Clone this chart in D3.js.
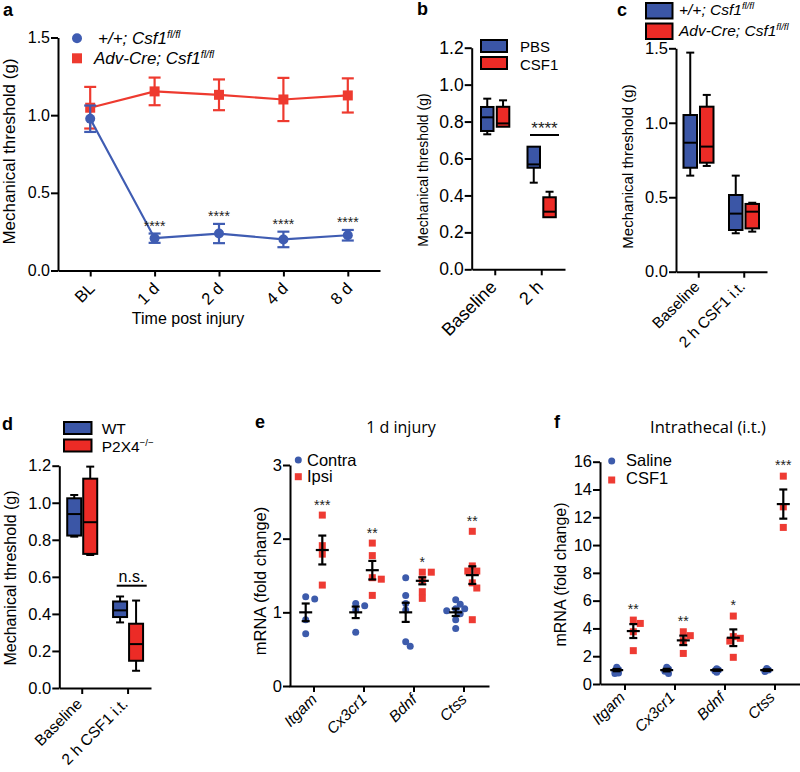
<!DOCTYPE html>
<html><head><meta charset="utf-8">
<script src="https://cdn.jsdelivr.net/npm/d3@7"></script>
<style>
body{margin:0;background:#fff}
svg text{font-family:"Liberation Sans",Arial,Helvetica,sans-serif}
</style>
</head><body>
<svg id="fig" width="800" height="772"></svg>
<script>
// ---------------- DATA ----------------
// Panel a
const timeLabels = ["BL", "1 d", "2 d", "4 d", "8 d"];
const aWtMean = [0.977, 0.208, 0.238, 0.200, 0.227];
const aWtSem  = [0.085, 0.030, 0.062, 0.050, 0.034];
const aKoMean = [1.048, 1.153, 1.131, 1.101, 1.127];
const aKoSem  = [0.134, 0.089, 0.099, 0.139, 0.110];
const aSig    = ["", "****", "****", "****", "****"];
const aLegend = ["+/+; Csf1", "Adv-Cre; Csf1"];

// Panel b  (box stats: [min, q1, median, q3, max])
const bCats = ["Baseline", "2 h"];
const bPBS  = [[0.731, 0.749, 0.823, 0.879, 0.924], [0.469, 0.550, 0.568, 0.664, 0.664]];
const bCSF1 = [[0.772, 0.772, 0.790, 0.880, 0.915], [0.282, 0.282, 0.312, 0.390, 0.420]];
const bLegend = ["PBS", "CSF1"];

// Panel c
const cCats = ["Baseline", "2 h CSF1 i.t."];
const cWT = [[0.645, 0.698, 0.866, 1.052, 1.471], [0.258, 0.280, 0.390, 0.515, 0.645]];
const cKO = [[0.710, 0.732, 0.840, 1.108, 1.187], [0.269, 0.291, 0.403, 0.455, 0.463]];

// Panel d
const dCats = ["Baseline", "2 h CSF1 i.t."];
const dWT  = [[0.817, 0.823, 0.939, 1.024, 1.042], [0.354, 0.383, 0.419, 0.467, 0.494]];
const dKO  = [[0.718, 0.724, 0.895, 1.130, 1.195], [0.093, 0.147, 0.237, 0.347, 0.472]];
const dLegend = ["WT", "P2X4"];

// Panel e
const genes = ["Itgam", "Cx3cr1", "Bdnf", "Ctss"];
const eContra = [[1.18, 1.21, 0.90, 0.71], [1.12, 1.09, 1.03, 0.73],
                 [1.47, 1.23, 1.12, 1.03, 0.54, 0.60], [1.11, 1.17, 1.05, 1.05, 1.02, 0.98, 0.90, 0.78]];
const eIpsi   = [[2.32, 1.905, 1.79, 1.37], [1.94, 1.77, 1.47, 1.45, 1.23],
                 [1.545, 1.545, 1.44, 1.28, 1.19], [2.10, 1.63, 1.56, 1.56, 1.40, 1.33, 0.90]];
const eContraMean = [1.0, 1.0, 1.0, 1.0];
const eContraSem  = [0.12, 0.078, 0.13, 0.05];
const eIpsiMean   = [1.846, 1.572, 1.428, 1.505];
const eIpsiSem    = [0.196, 0.126, 0.048, 0.12];
const eSig = ["***", "**", "*", "**"];

// Panel f
const fSaline = [[1.2, 1.05, 0.95, 0.8, 0.75], [1.2, 1.08, 0.92, 0.75],
                 [1.1, 1.0, 0.95, 0.85], [1.12, 1.0, 0.9]];
const fCSF1   = [[4.6, 4.36, 3.76, 2.4], [3.76, 3.48, 3.12, 2.2],
                 [4.89, 3.41, 3.29, 3.09, 1.92], [14.96, 12.75, 11.27]];
const fSalineMean = [1.0, 1.0, 1.0, 1.0];
const fSalineSem  = [0.08, 0.09, 0.05, 0.06];
const fCSF1Mean   = [3.81, 3.14, 3.33, 12.95];
const fCSF1Sem    = [0.50, 0.34, 0.60, 1.05];
const fSig = ["**", "**", "*", "***"];

// ---------------- STYLE ----------------
const BLUE = "#3b56a6", RED = "#ec2b26";
const LBLUE = "#3f5cb2", LRED = "#ee3a2f";
const PBLUE = "#3d5bab", PRED = "#ee3b33";
const svg = d3.select("#fig");

function styleAxis(ax, fs) {
  ax.attr("font-family", null).attr("font-size", null);
  ax.select(".domain").attr("stroke", "#000").attr("stroke-width", 2);
  ax.selectAll(".tick line").attr("stroke", "#000").attr("stroke-width", 2);
  ax.selectAll(".tick text").attr("fill", "#000").style("font-size", fs + "px");
}
function yAxis(y, x, ticks, fmt, fs) {
  const ax = svg.append("g").attr("transform", `translate(${x},0)`)
    .call(d3.axisLeft(y).tickValues(ticks).tickFormat(fmt).tickSize(7).tickPadding(1).tickSizeOuter(0));
  styleAxis(ax, fs);
  return ax;
}
function xAxis(xs, yPos, fs, italic, ox, oy) {
  const ax = svg.append("g").attr("transform", `translate(0,${yPos})`)
    .call(d3.axisBottom(xs).tickSize(6).tickSizeOuter(0));
  styleAxis(ax, fs);
  ax.selectAll(".tick text").attr("text-anchor", "end").attr("x", 0).attr("y", 0).attr("dy", "0.35em")
    .attr("transform", `translate(${ox},${oy}) rotate(-45)`)
    .style("font-style", italic ? "italic" : "normal");
  return ax;
}
function yTitle(txt, x, yc, fs) {
  svg.append("text").attr("transform", `translate(${x},${yc}) rotate(-90)`)
    .attr("text-anchor", "middle").attr("dy", "0.35em").style("font-size", fs + "px").text(txt);
}
function panelLetter(t, x, y) {
  svg.append("text").attr("x", x).attr("y", y).style("font-size", "18px").style("font-weight", "bold").text(t);
}
function box(cx, w, s, y, fill) {
  const [mn, q1, md, q3, mx] = s;
  const g = svg.append("g").attr("stroke", "#000").attr("stroke-width", 2);
  const cw = 8;
  if (mx > q3) {
    g.append("line").attr("x1", cx).attr("x2", cx).attr("y1", y(mx)).attr("y2", y(q3));
    g.append("line").attr("x1", cx - cw / 2).attr("x2", cx + cw / 2).attr("y1", y(mx)).attr("y2", y(mx));
  }
  if (mn < q1) {
    g.append("line").attr("x1", cx).attr("x2", cx).attr("y1", y(q1)).attr("y2", y(mn));
    g.append("line").attr("x1", cx - cw / 2).attr("x2", cx + cw / 2).attr("y1", y(mn)).attr("y2", y(mn));
  }
  g.append("rect").attr("x", cx - w / 2).attr("y", y(q3)).attr("width", w).attr("height", y(q1) - y(q3)).attr("fill", fill);
  g.append("line").attr("x1", cx - w / 2).attr("x2", cx + w / 2).attr("y1", y(md)).attr("y2", y(md));
}
function legendRect(x, y, w, h, fill) {
  svg.append("rect").attr("x", x).attr("y", y).attr("width", w).attr("height", h)
    .attr("fill", fill).attr("stroke", "#000").attr("stroke-width", 2);
}
function supText(x, y, main, sup, fs, italic) {
  const t = svg.append("text").attr("x", x).attr("y", y).style("font-size", fs + "px");
  if (italic) t.style("font-style", "italic");
  t.append("tspan").text(main);
  t.append("tspan").attr("dy", -fs * 0.38).style("font-size", (fs * 0.62) + "px").text(sup);
  return t;
}
// simple deterministic beeswarm: step = horizontal step, kmax = number of steps each side
function swarm(values, y, r, step, kmax) {
  const placed = [], out = new Array(values.length);
  const cands = [0];
  for (let k = 1; k <= kmax; k++) cands.push(k * step, -k * step);
  values.map((v, i) => ({v, i})).sort((a, b) => b.v - a.v).forEach(({v, i}) => {
    const yy = y(v);
    let best = null, bestD = -1;
    for (const xx of cands) {
      const d = placed.length ? d3.min(placed, p => Math.hypot(p.x - xx, p.y - yy)) : Infinity;
      if (d >= 2 * r * 0.8) { best = xx; break; }
      if (d > bestD) { bestD = d; best = xx; }
    }
    placed.push({x: best, y: yy}); out[i] = {x: best, y: yy};
  });
  return out;
}
function meanSem(cx, m, s, y) {
  const g = svg.append("g").attr("stroke", "#000").attr("stroke-width", 2.2);
  g.append("line").attr("x1", cx - 6.5).attr("x2", cx + 6.5).attr("y1", y(m)).attr("y2", y(m));
  g.append("line").attr("x1", cx).attr("x2", cx).attr("y1", y(m + s)).attr("y2", y(m - s));
  g.append("line").attr("x1", cx - 4).attr("x2", cx + 4).attr("y1", y(m + s)).attr("y2", y(m + s));
  g.append("line").attr("x1", cx - 4).attr("x2", cx + 4).attr("y1", y(m - s)).attr("y2", y(m - s));
}
function dots(cx, vals, y, color, shape, step, kmax) {
  const r = 3.5;
  swarm(vals, y, r, step, kmax).forEach(p => {
    if (shape === "circle")
      svg.append("circle").attr("cx", cx + p.x).attr("cy", p.y).attr("r", r).attr("fill", color);
    else
      svg.append("rect").attr("x", cx + p.x - r).attr("y", p.y - r).attr("width", 2 * r).attr("height", 2 * r).attr("fill", color);
  });
}

// ---------------- PANEL A ----------------
{
  const y = d3.scaleLinear().domain([0, 1.5]).range([270.5, 37.5]);
  const x = d3.scalePoint().domain(timeLabels).range([58, 380]).padding(0.5);
  yAxis(y, 58, [0, 0.5, 1.0, 1.5], d3.format(".1f"), 16);
  xAxis(x, 270.5, 16.5, false, 1, 15);
  yTitle("Mechanical threshold (g)", 9, 151.5, 17);
  svg.append("text").attr("x", 188).attr("y", 324).attr("text-anchor", "middle").style("font-size", "16px").text("Time post injury");
  panelLetter("a", 3, 16);

  const series = [
    {m: aKoMean, s: aKoSem, c: LRED, shape: "square"},
    {m: aWtMean, s: aWtSem, c: LBLUE, shape: "circle"}
  ];
  series.forEach(sr => {
    const line = d3.line().x((d, i) => x(timeLabels[i])).y(d => y(d));
    svg.append("path").attr("d", line(sr.m)).attr("fill", "none").attr("stroke", sr.c).attr("stroke-width", 2.2);
    sr.m.forEach((m, i) => {
      const cx = x(timeLabels[i]), s = sr.s[i];
      const g = svg.append("g").attr("stroke", sr.c).attr("stroke-width", 2.2);
      g.append("line").attr("x1", cx).attr("x2", cx).attr("y1", y(m + s)).attr("y2", y(m - s));
      g.append("line").attr("x1", cx - 6).attr("x2", cx + 6).attr("y1", y(m + s)).attr("y2", y(m + s));
      g.append("line").attr("x1", cx - 6).attr("x2", cx + 6).attr("y1", y(m - s)).attr("y2", y(m - s));
      if (sr.shape === "circle") svg.append("circle").attr("cx", cx).attr("cy", y(m)).attr("r", 5).attr("fill", sr.c);
      else svg.append("rect").attr("x", cx - 5).attr("y", y(m) - 5).attr("width", 10).attr("height", 10).attr("fill", sr.c);
    });
  });
  aSig.forEach((t, i) => {
    if (!t) return;
    svg.append("text").attr("x", x(timeLabels[i])).attr("y", y(aWtMean[i] + aWtSem[i]) - 3)
      .attr("text-anchor", "middle").style("font-size", "14px").attr("fill", "#222").text(t);
  });
  // legend
  svg.append("circle").attr("cx", 77).attr("cy", 38.3).attr("r", 5).attr("fill", LBLUE);
  svg.append("rect").attr("x", 72).attr("y", 53.3).attr("width", 10).attr("height", 10).attr("fill", LRED);
  supText(98, 44, aLegend[0], "fl/fl", 17, true);
  supText(94, 64, aLegend[1], "fl/fl", 17, true);
}

// ---------------- PANEL B ----------------
{
  const y = d3.scaleLinear().domain([0, 1.2]).range([269.3, 47.7]);
  const x = d3.scaleBand().domain(bCats).range([472, 565]);
  yAxis(y, 471.7, d3.range(0, 1.21, 0.2), d3.format(".1f"), 17.5);
  xAxis(x, 269.3, 18, false, -2, 14.5);
  yTitle("Mechanical threshold (g)", 423, 170, 14);
  panelLetter("b", 417, 15);
  bCats.forEach((c, i) => {
    const cx = x(c) + x.bandwidth() / 2;
    box(cx - 8, 12.5, bPBS[i], y, BLUE);
    box(cx + 7.8, 12.5, bCSF1[i], y, RED);
  });
  svg.append("line").attr("x1", 530).attr("x2", 559).attr("y1", 135).attr("y2", 135).attr("stroke", "#000").attr("stroke-width", 2);
  svg.append("text").attr("x", 544.5).attr("y", 133.5).attr("text-anchor", "middle").style("font-size", "17px").attr("fill", "#222").text("****");
  legendRect(481, 40, 26, 12, BLUE);
  legendRect(481, 57, 26, 12, RED);
  svg.append("text").attr("x", 520).attr("y", 51.7).style("font-size", "15px").text(bLegend[0]);
  svg.append("text").attr("x", 520).attr("y", 70).style("font-size", "15px").text(bLegend[1]);
}

// ---------------- PANEL C ----------------
{
  const y = d3.scaleLinear().domain([0, 1.5]).range([271.7, 48.3]);
  const x = d3.scaleBand().domain(cCats).range([676, 767]);
  yAxis(y, 676, [0, 0.5, 1.0, 1.5], d3.format(".1f"), 16.5);
  xAxis(x, 271.7, 15.5, false, -2, 12);
  yTitle("Mechanical threshold (g)", 628, 166.5, 15);
  panelLetter("c", 617, 16);
  cCats.forEach((c, i) => {
    const cx = x(c) + x.bandwidth() / 2;
    box(cx - 8.5, 13.5, cWT[i], y, BLUE);
    box(cx + 8, 13.5, cKO[i], y, RED);
  });
  legendRect(646, 3, 26.5, 15.5, BLUE);
  legendRect(646, 23.5, 26.5, 15.5, RED);
  supText(679, 15, aLegend[0], "fl/fl", 15.5, true);
  supText(679, 36, aLegend[1], "fl/fl", 15.5, true);
}

// ---------------- PANEL D ----------------
{
  const y = d3.scaleLinear().domain([0, 1.2]).range([688, 465.7]);
  const x = d3.scaleBand().domain(dCats).range([59.3, 151]);
  yAxis(y, 59.3, d3.range(0, 1.21, 0.2), d3.format(".1f"), 16.5);
  xAxis(x, 688, 15.5, false, -3, 13);
  yTitle("Mechanical threshold (g)", 10, 578, 16);
  panelLetter("d", 2, 430);
  dCats.forEach((c, i) => {
    const cx = x(c) + x.bandwidth() / 2;
    box(cx - 8, 14, dWT[i], y, BLUE);
    box(cx + 8, 14, dKO[i], y, RED);
  });
  svg.append("line").attr("x1", 116.7).attr("x2", 146.7).attr("y1", 585.7).attr("y2", 585.7).attr("stroke", "#000").attr("stroke-width", 2);
  svg.append("text").attr("x", 131.5).attr("y", 581.5).attr("text-anchor", "middle").style("font-size", "16px").text("n.s.");
  legendRect(64, 422, 27.5, 12, BLUE);
  legendRect(64, 439.5, 27.5, 12, RED);
  svg.append("text").attr("x", 101.7).attr("y", 434).style("font-size", "15.5px").text(dLegend[0]);
  supText(101.7, 451.7, dLegend[1], "\u2212/\u2212", 15.5, false);
}

// ---------------- PANEL E ----------------
{
  const y = d3.scaleLinear().domain([0, 3]).range([686, 465]);
  const x = d3.scaleBand().domain(genes).range([289, 489]);
  yAxis(y, 290, [0, 1, 2, 3], d3.format("d"), 16.5);
  xAxis(x, 686, 15.5, true, 0, 10.5);
  yTitle("mRNA (fold change)", 260, 581, 16.5);
  panelLetter("e", 255, 428);
  svg.append("text").attr("x", 401).attr("y", 433).attr("text-anchor", "middle")
    .style("font-family", "'Open Sans', sans-serif").style("font-size", "16px").text("1 d injury");
  genes.forEach((gname, i) => {
    const cx = x(gname) + x.bandwidth() / 2;
    dots(cx - 8.3, eContra[i], y, PBLUE, "circle", 4.5, 2);
    dots(cx + 8.3, eIpsi[i], y, PRED, "square", 4.5, 2);
  });
  genes.forEach((gname, i) => {
    const cx = x(gname) + x.bandwidth() / 2;
    meanSem(cx - 8.3, eContraMean[i], eContraSem[i], y);
    meanSem(cx + 8.3, eIpsiMean[i], eIpsiSem[i], y);
    svg.append("text").attr("x", cx + 8.3).attr("y", y(d3.max(eIpsi[i])) - 5)
      .attr("text-anchor", "middle").style("font-size", "14px").attr("fill", "#222").text(eSig[i]);
  });
  svg.append("circle").attr("cx", 298.3).attr("cy", 460).attr("r", 3.5).attr("fill", PBLUE);
  svg.append("rect").attr("x", 294.8).attr("y", 473.2).attr("width", 7).attr("height", 7).attr("fill", PRED);
  svg.append("text").attr("x", 307).attr("y", 465.5).style("font-size", "16.5px").text("Contra");
  svg.append("text").attr("x", 307).attr("y", 482).style("font-size", "16.5px").text("Ipsi");
}

// ---------------- PANEL F ----------------
{
  const y = d3.scaleLinear().domain([0, 16]).range([684, 461.7]);
  const x = d3.scaleBand().domain(genes).range([600, 800]);
  yAxis(y, 600, d3.range(0, 17, 2), d3.format("d"), 16.5);
  xAxis(x, 684, 15.5, true, -3, 10.5);
  yTitle("mRNA (fold change)", 560, 574.5, 16);
  panelLetter("f", 554, 428);
  svg.append("text").attr("x", 708).attr("y", 433).attr("text-anchor", "middle")
    .style("font-family", "'Open Sans', sans-serif").style("font-size", "16.5px").text("Intrathecal (i.t.)");
  genes.forEach((gname, i) => {
    const cx = x(gname) + x.bandwidth() / 2;
    dots(cx - 8.3, fSaline[i], y, PBLUE, "circle", 1.8, 1);
    dots(cx + 8.3, fCSF1[i], y, PRED, "square", 3.5, 2);
  });
  genes.forEach((gname, i) => {
    const cx = x(gname) + x.bandwidth() / 2;
    meanSem(cx - 8.3, fSalineMean[i], fSalineSem[i], y);
    meanSem(cx + 8.3, fCSF1Mean[i], fCSF1Sem[i], y);
    svg.append("text").attr("x", cx + 8.3).attr("y", y(d3.max(fCSF1[i])) - 6)
      .attr("text-anchor", "middle").style("font-size", "14px").attr("fill", "#222").text(fSig[i]);
  });
  svg.append("circle").attr("cx", 611.7).attr("cy", 461).attr("r", 3.5).attr("fill", PBLUE);
  svg.append("rect").attr("x", 608.2).attr("y", 476.5).attr("width", 7).attr("height", 7).attr("fill", PRED);
  svg.append("text").attr("x", 626).attr("y", 466).style("font-size", "16.5px").text("Saline");
  svg.append("text").attr("x", 626).attr("y", 484).style("font-size", "16.5px").text("CSF1");
}
</script>
</body></html>
